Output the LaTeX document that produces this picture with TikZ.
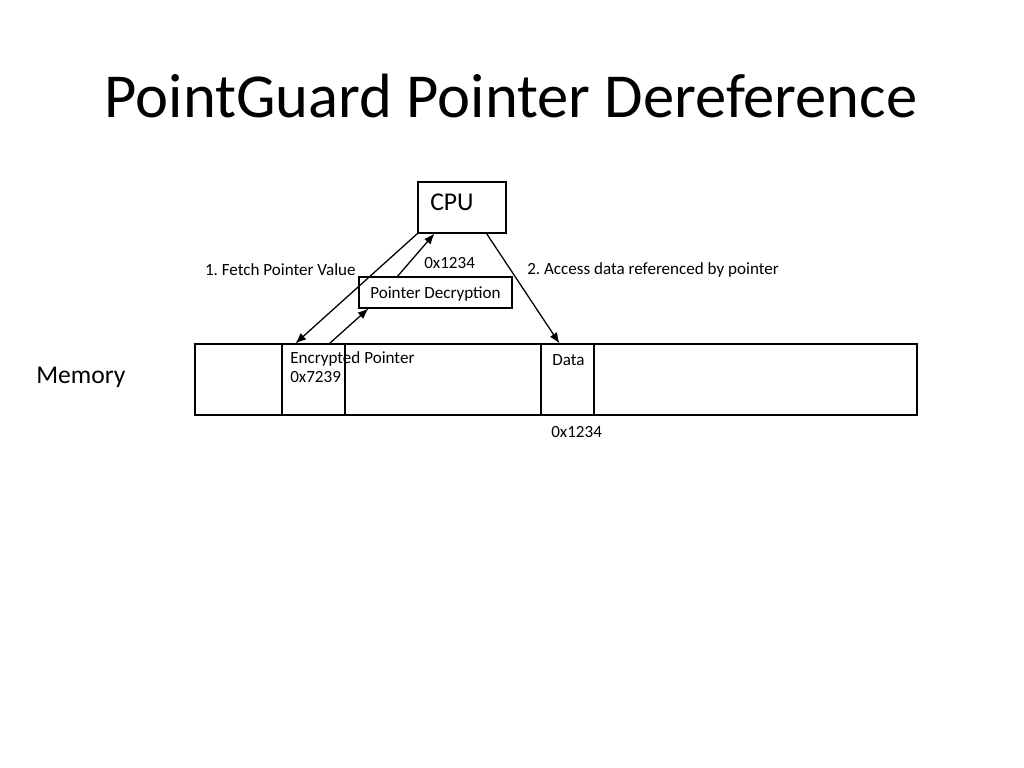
\documentclass[tikz,border=0pt]{standalone}
\usepackage{fontspec}
\setmainfont{Carlito}
\frenchspacing
\usetikzlibrary{positioning,fit,calc,arrows.meta}

\tikzset{
	cell/.style={draw, inner sep=0pt, line width=0.8pt},
	txt/.style={inner sep=0pt, font=\fontsize{12}{14}\selectfont},
	bigtxt/.style={inner sep=0pt, font=\fontsize{18}{22}\selectfont},
	ptr/.style={line width=0.9pt, -{Latex[length=7.5pt,width=6pt]}}
}

\begin{document}
\begin{tikzpicture}[x=0.703125pt,y=-0.703125pt]
	\useasboundingbox (0,0) rectangle (1024,768);
	\node[anchor=base, inner sep=0pt, font=\fontsize{44}{53}\selectfont] (title) at (511,118) {PointGuard Pointer Dereference};
	
	% cpu and decryption unit
	\coordinate (c1) at (418,182); \coordinate (c2) at (506,233);
	\node[cell, fit=(c1)(c2)] (cpu) {};
	\node[bigtxt, anchor=base west] (cpulbl) at (430,211) {CPU};
	\coordinate (d1) at (359,277); \coordinate (d2) at (512,308);
	\node[cell, fit=(d1)(d2)] (dec) {};
	\node[txt, anchor=base] (declbl) at ($(dec.south)+(0,-10)$) {Pointer Decryption};
	
	% memory strip
	\foreach \a/\b/\n in {195/282/mem1, 282/345/encptr, 345/541/mem3, 541/594/data, 594/917/mem5} {
		\coordinate (\n a) at (\a,344); \coordinate (\n b) at (\b,415);
		\node[cell, fit=(\n a)(\n b)] (\n) {};
	}
	\node[bigtxt, anchor=base west] (memlbl) at (36,383) {Memory};
	\node[txt, anchor=base west] (enclbl) at (290,363) {Encrypted Pointer};
	\node[txt, anchor=base west] (encval) at (290,382) {0x7239};
	\node[txt, anchor=base west] (datalbl) at (552,365) {Data};
	\node[txt, anchor=base west] (addr) at (551,437) {0x1234};
	
	% pointer flow
	\draw[ptr] (cpu.south west) -- ($(encptr.north west)+(14,0)$);
	\draw[ptr] ($(encptr.north east)+(-16,0)$) -- ($(dec.south west)+(10,0)$);
	\draw[ptr] ($(dec.north west)+(39,0)$) -- ($(cpu.south west)+(17,0)$);
	\draw[ptr] ($(cpu.south east)+(-20,0)$) -- ($(data.north west)+(19,0)$);
	\node[txt, anchor=base east] (fetch) at (356,276) {1. Fetch Pointer Value};
	\node[txt, anchor=base west] (plain) at (424,269) {0x1234};
	\node[txt, anchor=base west] (access) at (527,275) {2. Access data referenced by pointer};
\end{tikzpicture}
\end{document}
